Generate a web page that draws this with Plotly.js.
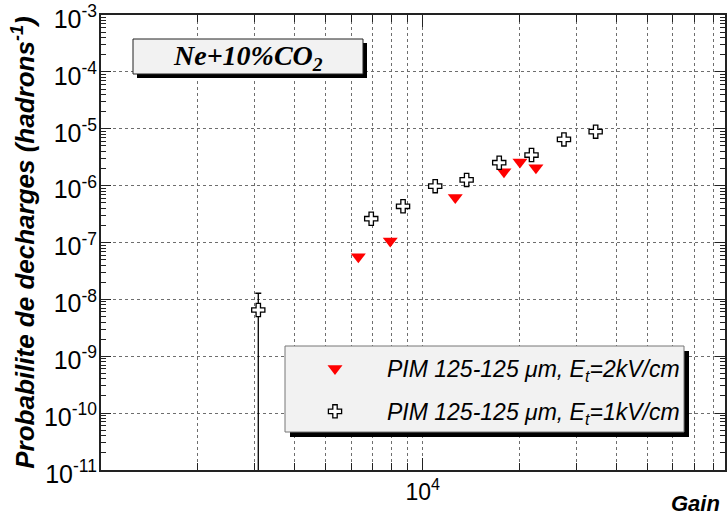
<!DOCTYPE html>
<html>
<head>
<meta charset="utf-8">
<script src="https://cdn.plot.ly/plotly-3.0.1.min.js"></script>
<style>html,body{margin:0;padding:0;background:#fff;}</style>
</head>
<body>
<div id="chart" style="width:727px;height:518px;"></div>
<script>
// ---- data ----
const gain2kV = [6310, 7930, 12630, 17900, 20070, 22500];
const prob2kV = [5.6e-8, 1.06e-7, 6.2e-7, 1.76e-6, 2.6e-6, 2.07e-6];

const gain1kV = [3083, 6920, 8690, 10940, 13700, 17300, 21800, 27500, 34500];
const prob1kV = [6.5e-9, 2.62e-7, 4.33e-7, 9.8e-7, 1.26e-6, 2.53e-6, 3.45e-6, 6.5e-6, 8.9e-6];
const err1kVup   = [6.3e-9, null, null, null, null, null, null, null, null];
const err1kVdown = [6.5e-9, null, null, null, null, null, null, null, null];

const name2kV = 'PIM 125-125 \u03bcm, E<sub>t</sub>=2kV/cm';
const name1kV = 'PIM 125-125 \u03bcm, E<sub>t</sub>=1kV/cm';
const boxLabel = 'Ne+10%CO<sub>2</sub>';

const xMajorTicks = [1e4];
const xMajorText = ['10<sup>4</sup>'];
const xMinorTicks = [2000,3000,4000,5000,6000,7000,8000,9000,20000,30000,40000,50000,60000,70000,80000];
const yMajorTicks = [1e-3,1e-4,1e-5,1e-6,1e-7,1e-8,1e-9,1e-10,1e-11];
const yMajorText = ['10<sup>-3</sup>','10<sup>-4</sup>','10<sup>-5</sup>','10<sup>-6</sup>','10<sup>-7</sup>','10<sup>-8</sup>','10<sup>-9</sup>','10<sup>-10</sup>','10<sup>-11</sup>'];
const yMinorTicks = [];
for (let e = -11; e < -3; e++) for (let m = 2; m <= 9; m++) yMinorTicks.push(m * Math.pow(10, e));

// ---- layout helpers (pixel -> paper) ----
const W = 727, H = 518, ML = 101, MR = 2, MT = 15, MB = 48;
const PW = W - ML - MR, PH = H - MT - MB;
const px = v => (v - ML) / PW;
const py = v => (H - MB - v) / PH;

const SANS = 'Liberation Sans, Arial, Helvetica, sans-serif';
const SERIF = 'Liberation Serif, Times New Roman, serif';
const gridCol = '#6e6e6e';
const lineCol = '#222';

const traces = [
  {
    x: gain2kV, y: prob2kV, name: name2kV, type: 'scatter', mode: 'markers',
    legendgroup: 'a',
    marker: {symbol: 'triangle-down', size: 13, color: '#ff0000', line: {width: 0}}
  },
  {
    x: gain1kV, y: prob1kV, name: name1kV, type: 'scatter', mode: 'markers',
    legendgroup: 'b',
    marker: {symbol: 'cross', size: 11, color: '#ffffff', line: {color: '#000', width: 1.3}},
    error_y: {type: 'data', symmetric: false, array: err1kVup, arrayminus: err1kVdown,
              color: '#000', thickness: 1.3, width: 3}
  }
];

const layout = {
  width: W, height: H,
  margin: {l: ML, r: MR, t: MT, b: MB, pad: 0},
  paper_bgcolor: '#fff', plot_bgcolor: '#fff',
  font: {family: SANS, color: '#000'},
  showlegend: true,
  legend: {
    x: px(283), y: py(347), xanchor: 'left', yanchor: 'top',
    bgcolor: 'rgba(0,0,0,0)', borderwidth: 0,
    itemwidth: 94, tracegroupgap: 10,
    font: {family: SANS, size: 23, style: 'italic', color: '#000'}
  },
  xaxis: {
    type: 'log', range: [3, 4.94],
    tickmode: 'array', tickvals: xMajorTicks, ticktext: xMajorText,
    ticks: 'inside', ticklen: 12, tickwidth: 1, tickcolor: lineCol,
    tickfont: {family: SANS, size: 23},
    showgrid: true, gridcolor: gridCol, griddash: 'dot', gridwidth: 1,
    minor: {tickmode: 'array', tickvals: xMinorTicks, ticks: 'inside', ticklen: 7, tickwidth: 1,
            tickcolor: lineCol, showgrid: true, gridcolor: gridCol, griddash: 'dot', gridwidth: 1},
    showline: true, linecolor: lineCol, linewidth: 2, mirror: 'allticks',
    zeroline: false, fixedrange: true
  },
  yaxis: {
    type: 'log', range: [-11.0005, -2.9995],
    tickmode: 'array', tickvals: yMajorTicks, ticktext: yMajorText,
    ticks: 'inside', ticklen: 10, tickwidth: 1, tickcolor: lineCol,
    tickfont: {family: SANS, size: 25},
    ticklabeloverflow: 'allow', ticklabelstandoff: -3, ticklabelshift: 4,
    showgrid: true, gridcolor: gridCol, griddash: 'dot', gridwidth: 1,
    minor: {tickmode: 'array', tickvals: yMinorTicks, ticks: 'inside', ticklen: 5, tickwidth: 1,
            tickcolor: lineCol, showgrid: false},
    showline: true, linecolor: lineCol, linewidth: 2, mirror: 'allticks',
    zeroline: false, fixedrange: true,
    title: {text: 'Probabilite de decharges (hadrons<sup>-1</sup>)',
            font: {family: SANS, size: 26, weight: 'bold', style: 'italic', color: '#000'},
            standoff: 2}
  },
  shapes: [
    // title box shadow + box
    {type: 'rect', xref: 'paper', yref: 'paper', x0: px(137), x1: px(367), y0: py(78), y1: py(43),
     fillcolor: '#000', line: {width: 0}, layer: 'above'},
    {type: 'rect', xref: 'paper', yref: 'paper', x0: px(133), x1: px(363), y0: py(74), y1: py(39),
     fillcolor: '#f2f2f2', line: {color: '#222', width: 1}, layer: 'above'},
    // legend box shadow + box
    {type: 'rect', xref: 'paper', yref: 'paper', x0: px(290), x1: px(689), y0: py(437), y1: py(351),
     fillcolor: '#000', line: {width: 0}, layer: 'above'},
    {type: 'rect', xref: 'paper', yref: 'paper', x0: px(285), x1: px(684), y0: py(432), y1: py(346),
     fillcolor: '#f2f2f2', line: {color: '#777', width: 1}, layer: 'above'}
  ],
  annotations: [
    {xref: 'paper', yref: 'paper', x: px(248), y: py(57), xanchor: 'center', yanchor: 'middle',
     text: boxLabel, showarrow: false,
     font: {family: SERIF, size: 28, weight: 'bold', style: 'italic', color: '#000'}},
    {xref: 'paper', yref: 'paper', x: px(722), y: py(503), xanchor: 'right', yanchor: 'middle',
     text: 'Gain', showarrow: false,
     font: {family: SANS, size: 22, weight: 'bold', style: 'italic', color: '#000'}}
  ]
};

Plotly.newPlot('chart', traces, layout, {displayModeBar: false, staticPlot: true});
</script>
</body>
</html>
